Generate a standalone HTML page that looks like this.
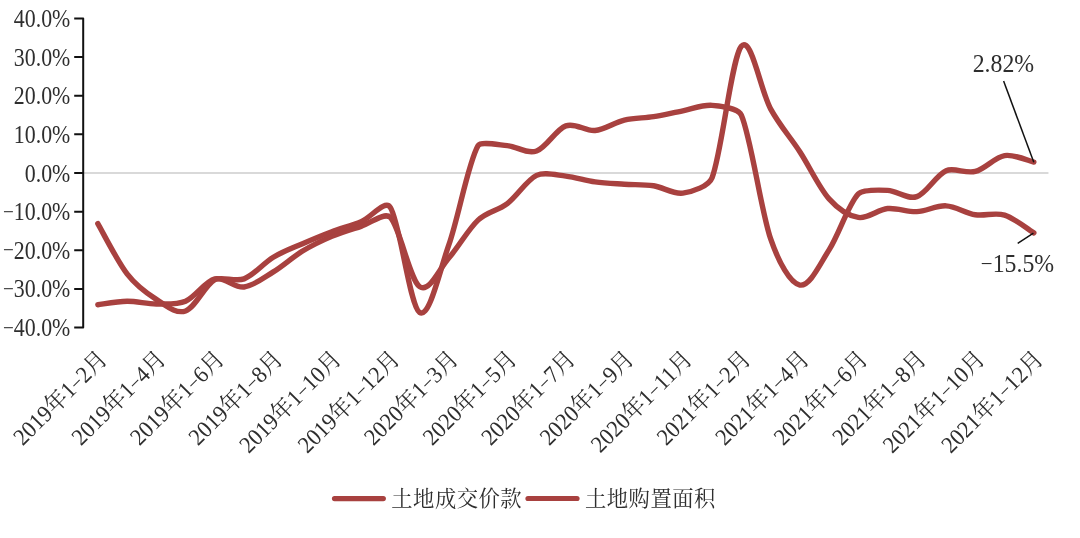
<!DOCTYPE html>
<html><head><meta charset="utf-8"><title>土地成交价款与土地购置面积</title>
<style>
html,body{margin:0;padding:0;background:#fff;}
body{width:1080px;height:538px;overflow:hidden;position:relative;}
svg{position:absolute;left:0;top:0;}
.t{font-family:"Liberation Serif","Noto Serif CJK SC",serif;fill:#2e2e2e;}
.c{font-family:"Noto Serif CJK SC",serif;}
.lg{letter-spacing:0.5px;}
</style></head><body>
<svg width="1080" height="538" viewBox="0 0 1080 538">

<line x1="83.20" y1="173.00" x2="1048.45" y2="173.00" stroke="#d9d9d9" stroke-width="1.8"/>
<path d="M74.2,18.44 H83.20 V327.56 H74.2 M74.2,57.08 H83.20 M74.2,95.72 H83.20 M74.2,134.36 H83.20 M74.2,173.00 H83.20 M74.2,211.64 H83.20 M74.2,250.28 H83.20 M74.2,288.92 H83.20" fill="none" stroke="#111" stroke-width="2" stroke-linejoin="round"/>
<text class="t" transform="translate(70.30,26.94) scale(0.9,1)" text-anchor="end" font-size="24.3">40.0%</text>
<text class="t" transform="translate(70.30,65.58) scale(0.9,1)" text-anchor="end" font-size="24.3">30.0%</text>
<text class="t" transform="translate(70.30,104.22) scale(0.9,1)" text-anchor="end" font-size="24.3">20.0%</text>
<text class="t" transform="translate(70.30,142.86) scale(0.9,1)" text-anchor="end" font-size="24.3">10.0%</text>
<text class="t" transform="translate(70.30,181.50) scale(0.9,1)" text-anchor="end" font-size="24.3">0.0%</text>
<text class="t" transform="translate(70.30,220.14) scale(0.9,1)" text-anchor="end" font-size="24.3"><tspan font-size="21.384" dy="-1.5">−</tspan><tspan dy="1.5">10.0%</tspan></text>
<text class="t" transform="translate(70.30,258.78) scale(0.9,1)" text-anchor="end" font-size="24.3"><tspan font-size="21.384" dy="-1.5">−</tspan><tspan dy="1.5">20.0%</tspan></text>
<text class="t" transform="translate(70.30,297.42) scale(0.9,1)" text-anchor="end" font-size="24.3"><tspan font-size="21.384" dy="-1.5">−</tspan><tspan dy="1.5">30.0%</tspan></text>
<text class="t" transform="translate(70.30,336.06) scale(0.9,1)" text-anchor="end" font-size="24.3"><tspan font-size="21.384" dy="-1.5">−</tspan><tspan dy="1.5">40.0%</tspan></text>
<path d="M97.83,304.76 C102.70,304.18 117.33,301.41 127.08,301.28 C136.82,301.16 146.57,303.99 156.32,303.99 C166.07,303.99 177.06,304.94 185.57,301.28 C195.32,297.10 205.07,281.26 214.82,278.87 C224.57,276.49 234.32,288.15 244.07,286.99 C253.82,285.83 263.57,277.91 273.32,271.92 C283.07,265.93 292.82,256.98 302.57,251.05 C312.32,245.13 322.07,240.49 331.82,236.37 C341.57,232.25 351.32,229.48 361.07,226.32 C370.82,223.17 384.62,211.56 390.32,217.44 C400.07,227.48 409.82,279.84 419.57,286.60 C429.32,293.36 439.07,269.08 448.82,258.01 C458.57,246.93 468.32,229.22 478.07,220.14 C487.62,211.25 497.57,211.00 507.32,203.53 C517.08,196.06 526.83,179.89 536.58,175.32 C544.22,171.73 556.08,175.00 565.83,176.09 C575.58,177.19 585.33,180.53 595.08,181.89 C604.83,183.24 614.58,183.56 624.33,184.21 C634.08,184.85 643.83,184.27 653.58,185.75 C663.33,187.23 673.08,194.45 682.83,193.09 C692.58,191.74 708.60,186.37 712.08,177.64 C721.83,153.16 731.58,57.72 741.33,46.26 C751.08,34.80 760.83,91.28 770.58,108.86 C780.33,126.44 790.08,136.74 799.83,151.75 C809.58,166.75 819.33,187.94 829.08,198.89 C837.85,208.75 848.58,215.83 858.33,217.44 C868.08,219.05 877.83,209.51 887.58,208.55 C897.33,207.58 907.08,212.09 916.83,211.64 C926.58,211.19 936.33,205.33 946.08,205.84 C955.83,206.36 965.58,213.19 975.33,214.73 C985.08,216.28 994.83,212.09 1004.58,215.12 C1014.33,218.14 1028.95,229.93 1033.83,232.89" fill="none" stroke="#A8413F" stroke-width="5.4" stroke-linecap="round" stroke-linejoin="round"/>
<path d="M97.83,223.62 C102.70,231.99 117.33,261.23 127.08,273.85 C136.82,286.47 146.57,293.17 156.32,299.35 C166.07,305.54 175.82,314.23 185.57,310.94 C195.32,307.66 205.07,284.99 214.82,279.65 C221.61,275.93 235.29,282.24 244.07,278.87 C253.82,275.14 263.57,263.10 273.32,257.24 C283.07,251.37 292.82,247.96 302.57,243.71 C312.32,239.46 322.07,235.40 331.82,231.73 C341.57,228.06 351.32,225.74 361.07,221.69 C370.82,217.63 385.08,199.25 390.32,207.39 C400.07,222.52 409.82,306.24 419.57,312.49 C429.32,318.74 439.07,272.69 448.82,244.87 C458.57,217.05 468.32,162.12 478.07,145.57 C480.50,141.44 497.57,144.66 507.32,145.57 C517.08,146.47 526.83,154.26 536.58,150.98 C546.33,147.69 556.08,129.27 565.83,125.86 C575.58,122.45 585.33,131.46 595.08,130.50 C604.83,129.53 614.58,122.38 624.33,120.06 C634.08,117.74 643.83,118.13 653.58,116.59 C663.33,115.04 673.08,112.66 682.83,110.79 C692.58,108.92 702.33,104.67 712.08,105.38 C721.83,106.09 738.54,108.70 741.33,115.04 C751.08,137.26 760.83,210.35 770.58,238.69 C778.64,262.13 790.08,283.19 799.83,285.06 C809.58,286.92 819.33,265.09 829.08,249.89 C838.83,234.70 848.58,203.78 858.33,193.87 C862.61,189.51 877.83,189.94 887.58,190.39 C897.33,190.84 907.08,199.85 916.83,196.57 C926.58,193.29 936.33,174.87 946.08,170.68 C954.21,167.19 965.58,173.97 975.33,171.45 C985.08,168.94 994.83,157.17 1004.58,155.61 C1014.33,154.05 1028.95,161.02 1033.83,162.10" fill="none" stroke="#A8413F" stroke-width="5.4" stroke-linecap="round" stroke-linejoin="round"/>
<text class="t" transform="translate(108.73,360.40) rotate(-45) scale(0.946,1)" text-anchor="end" font-size="23.5">2019<tspan class="c">年</tspan>1<tspan font-size="19.975">−</tspan>2<tspan class="c">月</tspan></text>
<text class="t" transform="translate(167.22,360.40) rotate(-45) scale(0.946,1)" text-anchor="end" font-size="23.5">2019<tspan class="c">年</tspan>1<tspan font-size="19.975">−</tspan>4<tspan class="c">月</tspan></text>
<text class="t" transform="translate(225.72,360.40) rotate(-45) scale(0.946,1)" text-anchor="end" font-size="23.5">2019<tspan class="c">年</tspan>1<tspan font-size="19.975">−</tspan>6<tspan class="c">月</tspan></text>
<text class="t" transform="translate(284.22,360.40) rotate(-45) scale(0.946,1)" text-anchor="end" font-size="23.5">2019<tspan class="c">年</tspan>1<tspan font-size="19.975">−</tspan>8<tspan class="c">月</tspan></text>
<text class="t" transform="translate(342.72,360.40) rotate(-45) scale(0.946,1)" text-anchor="end" font-size="23.5">2019<tspan class="c">年</tspan>1<tspan font-size="19.975">−</tspan>10<tspan class="c">月</tspan></text>
<text class="t" transform="translate(401.22,360.40) rotate(-45) scale(0.946,1)" text-anchor="end" font-size="23.5">2019<tspan class="c">年</tspan>1<tspan font-size="19.975">−</tspan>12<tspan class="c">月</tspan></text>
<text class="t" transform="translate(459.72,360.40) rotate(-45) scale(0.946,1)" text-anchor="end" font-size="23.5">2020<tspan class="c">年</tspan>1<tspan font-size="19.975">−</tspan>3<tspan class="c">月</tspan></text>
<text class="t" transform="translate(518.23,360.40) rotate(-45) scale(0.946,1)" text-anchor="end" font-size="23.5">2020<tspan class="c">年</tspan>1<tspan font-size="19.975">−</tspan>5<tspan class="c">月</tspan></text>
<text class="t" transform="translate(576.73,360.40) rotate(-45) scale(0.946,1)" text-anchor="end" font-size="23.5">2020<tspan class="c">年</tspan>1<tspan font-size="19.975">−</tspan>7<tspan class="c">月</tspan></text>
<text class="t" transform="translate(635.23,360.40) rotate(-45) scale(0.946,1)" text-anchor="end" font-size="23.5">2020<tspan class="c">年</tspan>1<tspan font-size="19.975">−</tspan>9<tspan class="c">月</tspan></text>
<text class="t" transform="translate(693.73,360.40) rotate(-45) scale(0.946,1)" text-anchor="end" font-size="23.5">2020<tspan class="c">年</tspan>1<tspan font-size="19.975">−</tspan>11<tspan class="c">月</tspan></text>
<text class="t" transform="translate(752.23,360.40) rotate(-45) scale(0.946,1)" text-anchor="end" font-size="23.5">2021<tspan class="c">年</tspan>1<tspan font-size="19.975">−</tspan>2<tspan class="c">月</tspan></text>
<text class="t" transform="translate(810.73,360.40) rotate(-45) scale(0.946,1)" text-anchor="end" font-size="23.5">2021<tspan class="c">年</tspan>1<tspan font-size="19.975">−</tspan>4<tspan class="c">月</tspan></text>
<text class="t" transform="translate(869.23,360.40) rotate(-45) scale(0.946,1)" text-anchor="end" font-size="23.5">2021<tspan class="c">年</tspan>1<tspan font-size="19.975">−</tspan>6<tspan class="c">月</tspan></text>
<text class="t" transform="translate(927.73,360.40) rotate(-45) scale(0.946,1)" text-anchor="end" font-size="23.5">2021<tspan class="c">年</tspan>1<tspan font-size="19.975">−</tspan>8<tspan class="c">月</tspan></text>
<text class="t" transform="translate(986.23,360.40) rotate(-45) scale(0.946,1)" text-anchor="end" font-size="23.5">2021<tspan class="c">年</tspan>1<tspan font-size="19.975">−</tspan>10<tspan class="c">月</tspan></text>
<text class="t" transform="translate(1044.73,360.40) rotate(-45) scale(0.946,1)" text-anchor="end" font-size="23.5">2021<tspan class="c">年</tspan>1<tspan font-size="19.975">−</tspan>12<tspan class="c">月</tspan></text>
<line x1="1003.6" y1="81.1" x2="1033.8" y2="162.2" stroke="#111" stroke-width="1.5"/>
<text class="t" transform="translate(1003.40,72.00) scale(0.93,1)" text-anchor="middle" font-size="25.6">2.82%</text>
<line x1="1017.7" y1="243.4" x2="1033.4" y2="233.1" stroke="#111" stroke-width="1.5"/>
<text class="t" transform="translate(1017.50,272.00) scale(0.93,1)" text-anchor="middle" font-size="25.6"><tspan font-size="22.528" dy="-1.5">−</tspan><tspan dy="1.5">15.5%</tspan></text>
<line x1="334.5" y1="498.6" x2="383.3" y2="498.6" stroke="#A8413F" stroke-width="5.2" stroke-linecap="round"/>
<text class="t c lg" transform="translate(391.30,505.60)" text-anchor="start" font-size="21.3">土地成交价款</text>
<line x1="528" y1="498.5" x2="577" y2="498.5" stroke="#A8413F" stroke-width="5.2" stroke-linecap="round"/>
<text class="t c lg" transform="translate(585.00,505.60)" text-anchor="start" font-size="21.3">土地购置面积</text>
</svg></body></html>
